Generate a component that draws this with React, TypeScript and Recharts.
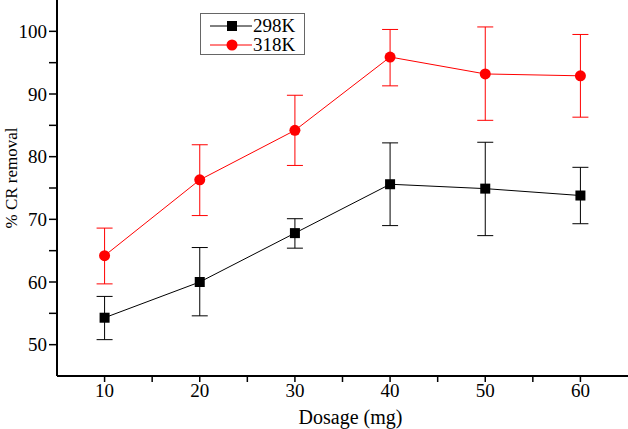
import React from 'react';
import { ComposedChart, Line, XAxis, YAxis, ErrorBar } from 'recharts';

const dosage = [10, 20, 30, 40, 50, 60];
const k298 = [54.3, 60.0, 67.8, 75.6, 74.9, 73.8];
const k298Err = [[3.5, 3.4], [5.4, 5.5], [2.4, 2.3], [6.6, 6.6], [7.5, 7.4], [4.5, 4.5]];
const k318 = [64.2, 76.3, 84.2, 95.9, 93.2, 92.9];
const k318Err = [[4.5, 4.4], [5.7, 5.6], [5.6, 5.6], [4.6, 4.4], [7.4, 7.5], [6.6, 6.6]];

const xTicks = [10, 15, 20, 25, 30, 35, 40, 45, 50, 55, 60];
const yTicks = [50, 55, 60, 65, 70, 75, 80, 85, 90, 95, 100];

const data = dosage.map((d, i) => ({
  dosage: d,
  k298: k298[i],
  k298Err: k298Err[i],
  k318: k318[i],
  k318Err: k318Err[i],
}));

const font = '"Liberation Serif", "Times New Roman", serif';

const Square = (props: any) => {
  const { cx, cy } = props;
  if (cx == null || cy == null) return null;
  return <rect x={cx - 5} y={cy - 5} width={10} height={10} fill="#000" />;
};

// legend drawn as a small boxed overlay, top-left inside the plot
const LegendBox = () => (
  <div
    style={{
      position: 'absolute',
      left: 200,
      top: 13,
      border: '1px solid #666',
      width: 105,
      height: 42,
      background: '#fff',
      boxSizing: 'border-box',
    }}
  >
    <svg width={103} height={40} style={{ display: 'block', overflow: 'visible' }}>
      <line x1={9} y1={12} x2={51} y2={12} stroke="#000" strokeWidth={1} />
      <rect x={26} y={7} width={10} height={10} fill="#000" />
      <text x={52} y={18} fontFamily={font} fontSize={19} fill="#000">298K</text>
      <line x1={9} y1={31} x2={51} y2={31} stroke="#ff0000" strokeWidth={1} />
      <circle cx={31} cy={31} r={5.5} fill="#ff0000" />
      <text x={52} y={37} fontFamily={font} fontSize={19} fill="#000">318K</text>
    </svg>
  </div>
);

export default function App() {
  return (
    <div style={{ position: 'absolute', left: 0, top: 0, background: '#fff' }}>
      <ComposedChart
        width={628}
        height={429}
        data={data}
        margin={{ top: 0, right: 0, bottom: 0, left: 0 }}
      >
        <XAxis
          dataKey="dosage"
          type="number"
          domain={[5, 65]}
          ticks={xTicks}
          tickFormatter={(v: number) => (v % 10 === 0 ? String(v) : '')}
          height={53}
          tickSize={6}
          axisLine={{ stroke: '#000', strokeWidth: 2 }}
          tickLine={{ stroke: '#000', strokeWidth: 1.5 }}
          tick={{ fill: '#000', fontFamily: font, fontSize: 19 }}
          label={{
            value: 'Dosage (mg)',
            position: 'insideBottom',
            offset: 5,
            dx: 8,
            fill: '#000',
            fontFamily: font,
            fontSize: 20,
          }}
        />
        <YAxis
          type="number"
          domain={[45, 105]}
          ticks={yTicks}
          tickFormatter={(v: number) => (v % 10 === 0 ? String(v) : '')}
          width={57}
          tickSize={8}
          axisLine={{ stroke: '#000', strokeWidth: 2 }}
          tickLine={{ stroke: '#000', strokeWidth: 1.5 }}
          tick={{ fill: '#000', fontFamily: font, fontSize: 19 }}
          label={{
            value: '% CR removal',
            angle: -90,
            position: 'insideLeft',
            offset: 11,
            dy: -10,
            style: { textAnchor: 'middle' },
            fill: '#000',
            fontFamily: font,
            fontSize: 17,
          }}
        />
        <Line
          dataKey="k298"
          stroke="#000"
          strokeWidth={1}
          dot={<Square />}
          activeDot={false}
          isAnimationActive={false}
        >
          <ErrorBar dataKey="k298Err" width={8} stroke="#000" strokeWidth={1} direction="y" />
        </Line>
        <Line
          dataKey="k318"
          stroke="#ff0000"
          strokeWidth={1}
          dot={{ r: 5.5, fill: '#ff0000', stroke: '#ff0000', strokeWidth: 0 }}
          activeDot={false}
          isAnimationActive={false}
        >
          <ErrorBar dataKey="k318Err" width={8} stroke="#ff0000" strokeWidth={1} direction="y" />
        </Line>
      </ComposedChart>
      <LegendBox />
    </div>
  );
}
